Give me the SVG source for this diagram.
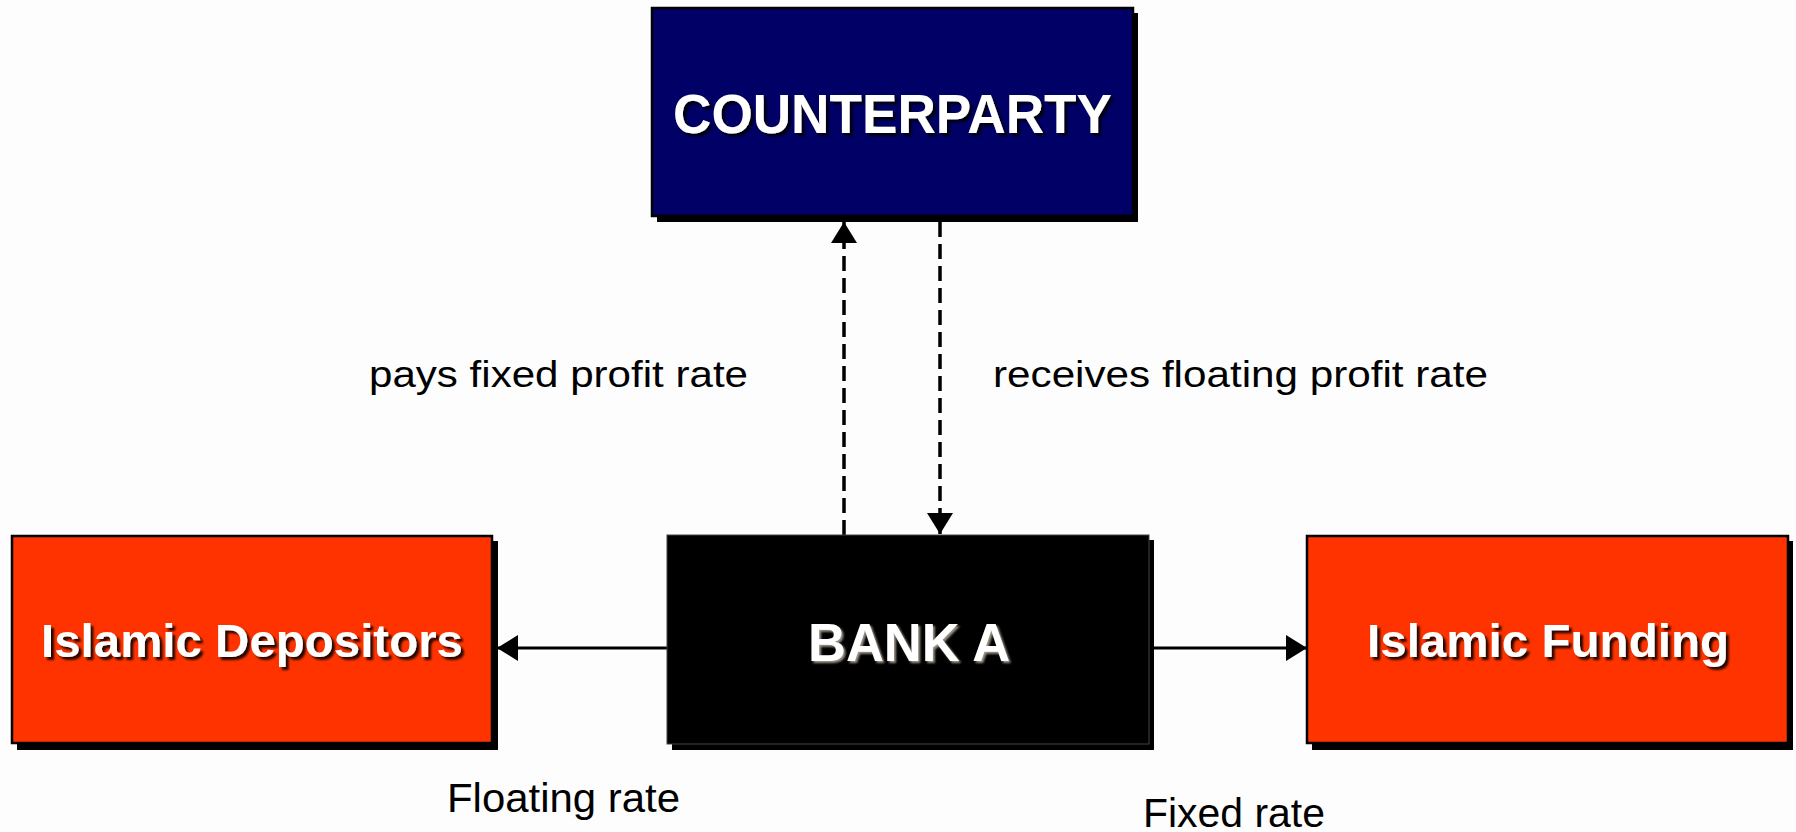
<svg xmlns="http://www.w3.org/2000/svg" width="1796" height="832" viewBox="0 0 1796 832">
  <style>
    .shadow { fill: #000000; }
    .box { stroke: #000000; stroke-width: 2.5; }
    .title { font-family: "Liberation Sans", Arial, sans-serif; font-weight: bold; fill: #ffffff; text-anchor: middle; }
    .label { font-family: "Liberation Sans", Arial, sans-serif; fill: #000000; }
    .conn { stroke: #000000; stroke-width: 3; fill: none; }
    .dashed { stroke-width: 3.5; stroke-dasharray: 15 7; }
  </style>
  <defs>
    <marker id="arrow" viewBox="0 0 21 26" refX="21" refY="13" markerWidth="21" markerHeight="26" markerUnits="userSpaceOnUse" orient="auto">
      <path d="M0,0 L21,13 L0,26 Z" fill="#000000"/>
    </marker>
    <filter id="ts" x="-10%" y="-30%" width="120%" height="160%">
      <feDropShadow dx="3" dy="3" stdDeviation="1" flood-color="#000000" flood-opacity="0.85"/>
    </filter>
    <filter id="tsg" x="-10%" y="-30%" width="120%" height="160%">
      <feDropShadow dx="2" dy="2" stdDeviation="1.2" flood-color="#b0a898" flood-opacity="0.9"/>
    </filter>
  </defs>
  <rect x="0" y="0" width="1796" height="832" fill="#fdfdfd"/>

  <g id="connectors">
    <line class="conn dashed" x1="844" y1="535" x2="844" y2="222" marker-end="url(#arrow)"/>
    <line class="conn dashed" x1="940" y1="222" x2="940" y2="534" marker-end="url(#arrow)"/>
    <line class="conn" x1="667" y1="648" x2="497" y2="648" marker-end="url(#arrow)"/>
    <line class="conn" x1="1154" y1="648" x2="1307" y2="648" marker-end="url(#arrow)"/>
  </g>

  <g id="counterparty">
    <rect class="shadow" x="657" y="13" width="481" height="209"/>
    <rect class="box" x="652" y="8" width="481" height="208" fill="#000066"/>
    <text class="title" x="892.5" y="133" font-size="55" textLength="439" lengthAdjust="spacingAndGlyphs" filter="url(#ts)">COUNTERPARTY</text>
  </g>

  <g id="bank-a">
    <rect class="shadow" x="672" y="540" width="482" height="210"/>
    <rect x="667" y="535" width="482" height="209" fill="#000000" stroke="#444" stroke-width="1"/>
    <text class="title" x="909" y="661" font-size="54" textLength="202" lengthAdjust="spacingAndGlyphs" filter="url(#tsg)">BANK A</text>
  </g>

  <g id="islamic-depositors">
    <rect class="shadow" x="17" y="541" width="481" height="209"/>
    <rect class="box" x="12" y="536" width="480" height="207" fill="#ff3300"/>
    <text class="title" x="252" y="657" font-size="47" textLength="422" lengthAdjust="spacingAndGlyphs" filter="url(#ts)">Islamic Depositors</text>
  </g>

  <g id="islamic-funding">
    <rect class="shadow" x="1312" y="541" width="481" height="209"/>
    <rect class="box" x="1307" y="536" width="481" height="207" fill="#ff3300"/>
    <text class="title" x="1548" y="657" font-size="47" textLength="362" lengthAdjust="spacingAndGlyphs" filter="url(#ts)">Islamic Funding</text>
  </g>

  <g id="labels">
    <text class="label" x="369" y="387" font-size="36" textLength="379" lengthAdjust="spacingAndGlyphs">pays fixed profit rate</text>
    <text class="label" x="993" y="387" font-size="36" textLength="495" lengthAdjust="spacingAndGlyphs">receives floating profit rate</text>
    <text class="label" x="447" y="812" font-size="40" textLength="233" lengthAdjust="spacingAndGlyphs">Floating rate</text>
    <text class="label" x="1143" y="827" font-size="40" textLength="182" lengthAdjust="spacingAndGlyphs">Fixed rate</text>
  </g>
</svg>
